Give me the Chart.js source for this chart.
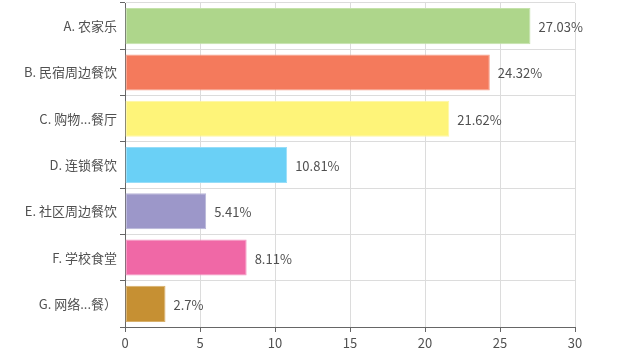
<!DOCTYPE html>
<html>
<head>
<meta charset="utf-8">
<script src="https://cdn.jsdelivr.net/npm/chart.js@4/dist/chart.umd.min.js"></script>
<style>
    html, body { margin: 0; padding: 0; background: #fff; }
    #wrap { width: 640px; height: 360px; }
</style>
</head>
<body>
<div id="wrap"><canvas id="chart"></canvas></div>
<script>
// Chart data
const categories = ['A. 农家乐', 'B. 民宿周边餐饮', 'C. 购物...餐厅', 'D. 连锁餐饮', 'E. 社区周边餐饮', 'F. 学校食堂', 'G. 网络...餐）'];
const values = [27.03, 24.32, 21.62, 10.81, 5.41, 8.11, 2.7];
const barColors = ['#aed68b', '#f47a5c', '#fef479', '#6ad0f6', '#9c97c9', '#f068a6', '#c69033'];
const borderColors = ['#c4e2aa', '#f7a08a', '#fef7a3', '#97ddf8', '#b8b5d8', '#f495c1', '#d8b06c'];
const xTicks = [0, 5, 10, 15, 20, 25, 30];

const FONT = '"Noto Sans CJK SC", "Noto Sans", sans-serif';
const TEXT = '#505050';

// Draw the percentage next to each bar
const valueLabels = {
    id: 'valueLabels',
    afterDatasetsDraw(chart) {
        const ctx = chart.ctx;
        const meta = chart.getDatasetMeta(0);
        ctx.save();
        ctx.font = '13px ' + FONT;
        ctx.fillStyle = TEXT;
        ctx.textAlign = 'left';
        ctx.textBaseline = 'middle';
        meta.data.forEach((bar, i) => {
            ctx.fillText(values[i] + '%', bar.x + 8, bar.y + 1);
        });
        ctx.restore();
    }
};

new Chart(document.getElementById('chart'), {
    type: 'bar',
    data: {
        labels: categories,
        datasets: [{
            data: values,
            backgroundColor: barColors,
            borderColor: borderColors,
            borderWidth: 1,
            borderSkipped: false,
            barPercentage: 0.78,
            categoryPercentage: 1
        }]
    },
    options: {
        indexAxis: 'y',
        responsive: true,
        maintainAspectRatio: false,
        animation: false,
        layout: { padding: { top: 3, right: 65, left: 0, bottom: 0 } },
        plugins: {
            legend: { display: false },
            tooltip: { enabled: false }
        },
        scales: {
            x: {
                min: 0,
                max: 30,
                afterBuildTicks: axis => { axis.ticks = xTicks.map(v => ({ value: v })); },
                afterFit: axis => { axis.height = 33; },
                grid: { color: '#dcdcdc', tickColor: '#666', tickLength: 5, lineWidth: 1 },
                border: { color: '#666' },
                ticks: { color: TEXT, font: { family: FONT, size: 13 }, padding: 3 }
            },
            y: {
                afterFit: axis => {
                    axis.width = 125;
                    axis.paddingTop = 0;
                    axis.paddingBottom = 0;
                },
                grid: { color: '#dcdcdc', tickColor: '#666', tickLength: 5, offset: true },
                border: { color: '#666' },
                ticks: { color: TEXT, font: { family: FONT, size: 13 }, padding: 3 }
            }
        }
    },
    plugins: [valueLabels]
});
</script>
</body>
</html>
